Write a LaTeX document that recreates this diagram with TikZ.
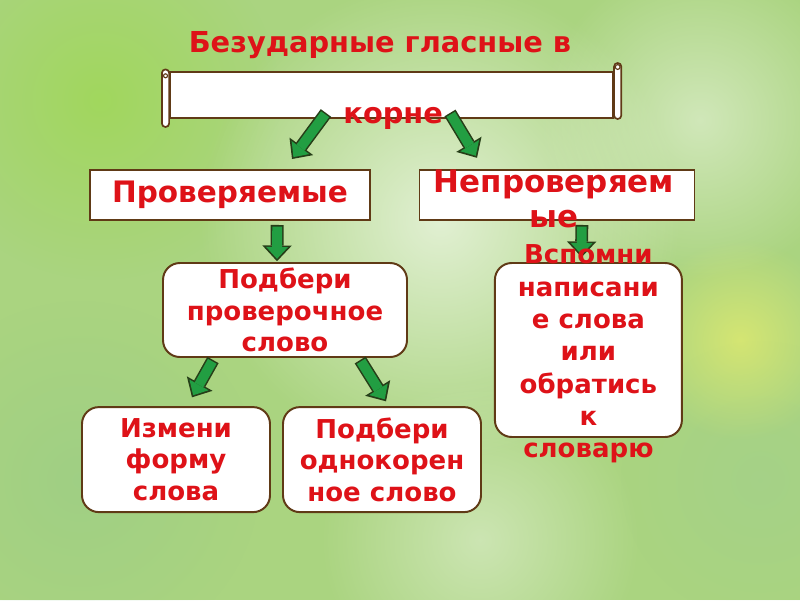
\documentclass[tikz,border=0pt]{standalone}
\usepackage{fontspec}
\setmainfont{DejaVu Sans}
\usetikzlibrary{arrows.meta,fadings}

\definecolor{textred}{RGB}{222,18,24}
\definecolor{framebrown}{RGB}{96,58,22}
\definecolor{arrowgreen}{RGB}{34,158,66}
\definecolor{arrowline}{RGB}{38,62,24}
\definecolor{bggreen}{RGB}{170,212,128}

\tikzfading[name=softblob, inner color=transparent!0, outer color=transparent!100]

\begin{document}
\begin{tikzpicture}[
        plainbox/.style={rectangle, draw=framebrown, line width=1.4pt, fill=white, inner sep=0pt},
        roundbox/.style={plainbox, rounded corners=12pt, align=center, text=textred, font=\fontsize{18.5}{22.5}\selectfont\bfseries},
        redtext/.style={text=textred, align=center, font=\fontsize{18.5}{22.5}\selectfont\bfseries},
        bigtext/.style={text=textred, align=center, font=\fontsize{20.5}{24}\selectfont\bfseries},
        blockarrow/.style={draw=arrowgreen, line width=7pt, shorten <=1.1pt, shorten >=1.7pt,
            -{Triangle[width=15.5pt, length=8.4pt, line width=0pt]},
            preaction={draw=arrowline, line width=9.2pt, shorten <=0pt, shorten >=0pt,
                -{Triangle[width=21pt, length=11.2pt, line width=0pt]}}},
        blob/.style={path fading=softblob}
    ]
        \useasboundingbox (0,0) rectangle (20,-15);
        % background
        \fill[bggreen] (0,0) rectangle (20,-15);
        \fill[blob, yellow!50!green!75, opacity=.8] (2.5,-2.5) circle (4.5);
        \fill[blob, white, opacity=.65] (11,-5.5) circle (6);
        \fill[blob, white, opacity=.45] (17.5,-3) circle (4);
        \fill[blob, green!50!black!45, opacity=.35] (2,-12) circle (4.5);
        \fill[blob, green!50!black!40, opacity=.3] (19,-12) circle (3.5);
        \fill[blob, white, opacity=.4] (12,-13.5) circle (4);
        \fill[blob, yellow!60!white, opacity=.5] (18.5,-8.5) circle (2.5);

        \node[bigtext] (title) at (9.5,-1.12) {Безударные гласные в};

        % scroll
        \node[plainbox, minimum width=11.075cm, minimum height=1.15cm] (scroll) at (9.79,-2.375) {};
        \draw[framebrown, line width=1.2pt, fill=white, rounded corners=2.5pt]
            ([xshift=-0.18cm, yshift=0.04cm]scroll.north west) rectangle ([yshift=-0.2cm]scroll.south west);
        \draw[framebrown, line width=0.8pt] ([xshift=-0.09cm, yshift=-0.12cm]scroll.north west) circle (0.05);
        \draw[framebrown, line width=1.2pt, fill=white, rounded corners=2.5pt]
            ([yshift=0.2cm]scroll.north east) rectangle ([xshift=0.18cm]scroll.south east);
        \draw[framebrown, line width=0.8pt] ([xshift=0.09cm, yshift=0.1cm]scroll.north east) circle (0.06);

        \node[plainbox, minimum width=7cm, minimum height=1.25cm, text=textred, font=\fontsize{21}{25}\selectfont\bfseries] (check) at (5.75,-4.875) {Проверяемые};
        \node[plainbox, minimum width=6.875cm, minimum height=1.25cm] (uncheck) at (13.925,-4.875) {};

        \node[roundbox, minimum width=6.1cm, minimum height=2.35cm] (pick) at (7.125,-7.75) {Подбери\\проверочное\\слово};
        \node[roundbox, minimum width=4.675cm, minimum height=4.35cm] (recall) at (14.71,-8.75) {};
        \node[roundbox, minimum width=4.7cm, minimum height=2.625cm] (change) at (4.4,-11.49) {Измени\\форму\\слова};
        \node[roundbox, minimum width=4.95cm, minimum height=2.625cm] (root) at (9.55,-11.49) {Подбери\\однокорен\\ное слово};

        \draw[blockarrow] ([xshift=-1.64cm, yshift=0.15cm]scroll.south) -- ([xshift=1.55cm, yshift=0.25cm]check.north);
        \draw[blockarrow] ([xshift=1.46cm, yshift=0.15cm]scroll.south) -- ([xshift=-2.0cm, yshift=0.28cm]uncheck.north);
        \draw[blockarrow] ([xshift=1.18cm, yshift=-0.1cm]check.south) -- ([xshift=-0.2cm, yshift=0.02cm]pick.north);
        \draw[blockarrow] ([xshift=0.62cm, yshift=-0.1cm]uncheck.south) -- ([xshift=-0.17cm, yshift=0.12cm]recall.north);
        \draw[blockarrow] ([xshift=-1.8cm, yshift=-0.05cm]pick.south) -- ([xshift=0.4cm, yshift=0.22cm]change.north);
        \draw[blockarrow] ([xshift=1.88cm, yshift=-0.05cm]pick.south) -- ([xshift=0.1cm, yshift=0.12cm]root.north);

        % text running over the frames
        \node[bigtext] (scrolltext) at (9.83,-2.96) {корне};
        \node[bigtext, font=\fontsize{22}{25}\selectfont\bfseries] (unchecktext) at (13.85,-4.97) {Непроверяем\\ые};
        \node[redtext, font=\fontsize{18.5}{23}\selectfont\bfseries] (recalltext) at (14.71,-8.85) {Вспомни\\написани\\е слова\\или\\обратись\\к\\словарю};
    \end{tikzpicture}
\end{document}
